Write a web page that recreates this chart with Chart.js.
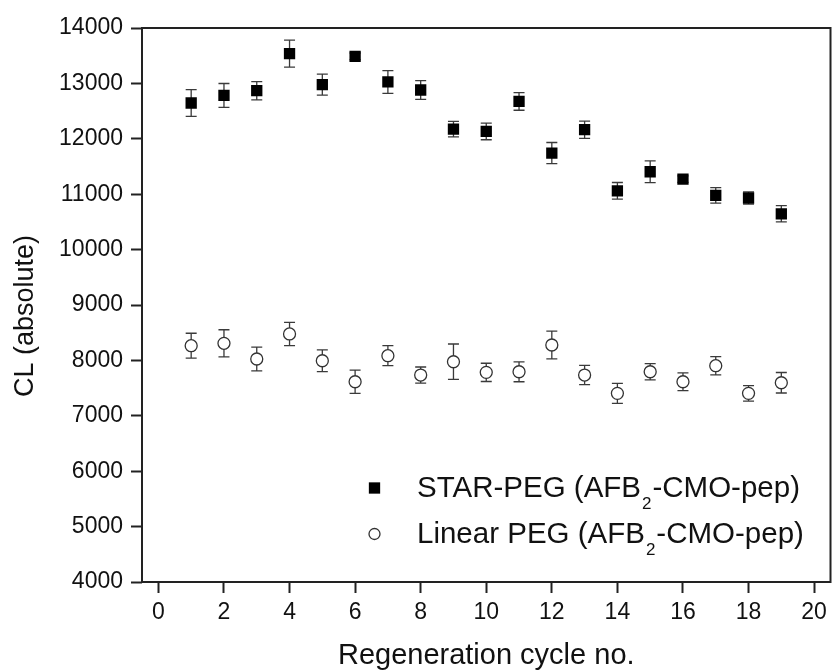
<!DOCTYPE html>
<html>
<head>
<meta charset="utf-8">
<script src="https://cdn.jsdelivr.net/npm/chart.js@4.4.0/dist/chart.umd.min.js"></script>
<style>
  html, body { margin: 0; padding: 0; background: #fff; }
  #wrap { width: 832px; height: 671px; }
</style>
</head>
<body>
<div id="wrap"><canvas id="grafico" width="832" height="671"></canvas></div>
<script>
// ciclos de regeneração
const cycles = [1, 2, 3, 4, 5, 6, 7, 8, 9, 10, 11, 12, 13, 14, 15, 16, 17, 18, 19];

// STAR-PEG
const starPeg = [12646, 12783, 12868, 13537, 12977, 13489, 13026, 12881, 12176, 12133,
                 12675, 11743, 12164, 11061, 11405, 11272, 10980, 10931, 10646];
const starPegErr = [240, 215, 165, 245, 190, 60, 205, 170, 140, 150,
                    160, 190, 155, 150, 195, 60, 140, 110, 147];

// Linear PEG
const linearPeg = [8265, 8308, 8025, 8477, 7994, 7615, 8085, 7736, 7976, 7784,
                   7795, 8278, 7736, 7405, 7795, 7615, 7904, 7405, 7597];
const linearPegErr = [225, 245, 215, 210, 195, 210, 180, 145, 320, 165,
                      180, 250, 175, 180, 145, 160, 165, 140, 185];

const seriesLabels = ["STAR-PEG (AFB₂-CMO-pep)", "Linear PEG (AFB₂-CMO-pep)"];
const yTitle = "CL (absolute)";

const FONTE = "'Liberation Sans', Arial, Helvetica, sans-serif";
Chart.defaults.font.family = FONTE;
Chart.defaults.color = "#111";

function pontos(ys, errs) {
    return cycles.map((c, i) => ({ x: c, y: ys[i], err: errs[i] }));
}

// barras de erro, desenhadas antes dos marcadores
const barrasErro = {
    id: "barrasErro",
    beforeDatasetsDraw(chart) {
        const ctx = chart.ctx;
        const xs = chart.scales.x;
        const ys = chart.scales.y;
        ctx.save();
        ctx.strokeStyle = "#3a3a3a";
        ctx.lineWidth = 1.3;
        chart.data.datasets.forEach(ds => {
            ds.data.forEach(p => {
                const x = xs.getPixelForValue(p.x);
                const yTop = ys.getPixelForValue(p.y + p.err);
                const yBot = ys.getPixelForValue(p.y - p.err);
                ctx.beginPath();
                ctx.moveTo(x, yTop); ctx.lineTo(x, yBot);
                ctx.moveTo(x - 5.5, yTop); ctx.lineTo(x + 5.5, yTop);
                ctx.moveTo(x - 5.5, yBot); ctx.lineTo(x + 5.5, yBot);
                ctx.stroke();
            });
        });
        ctx.restore();
    }
};

// moldura do gráfico + título do eixo y
const moldura = {
    id: "moldura",
    beforeDatasetsDraw(chart) {
        const { ctx, chartArea } = chart;
        ctx.save();
        ctx.strokeStyle = "#222";
        ctx.lineWidth = 2;
        ctx.strokeRect(chartArea.left, chartArea.top,
                       chartArea.right - chartArea.left, chartArea.bottom - chartArea.top);

        ctx.translate(25.5, (chartArea.top + chartArea.bottom) / 2 + 11);
        ctx.rotate(-Math.PI / 2);
        ctx.fillStyle = "#111";
        ctx.font = "27px " + FONTE;
        ctx.textAlign = "center";
        ctx.textBaseline = "middle";
        ctx.fillText(yTitle, 0, 0);
        ctx.restore();
    }
};

// legenda dentro da área, com subscrito
const legendaInterna = {
    id: "legendaInterna",
    afterDatasetsDraw(chart) {
        const { ctx, chartArea } = chart;
        const mx = chartArea.left + 232.5;
        const tx = chartArea.left + 275;
        const bases = [chartArea.top + 469, chartArea.top + 515];
        ctx.save();
        chart.data.datasets.forEach((ds, i) => {
            const base = bases[i];
            ctx.fillStyle = ds.backgroundColor;
            ctx.strokeStyle = ds.borderColor;
            ctx.lineWidth = ds.borderWidth;
            Chart.helpers.drawPoint(ctx, {
                pointStyle: ds.pointStyle,
                radius: ds.legendRadius,
                borderWidth: ds.borderWidth,
                rotation: 0
            }, mx, base - 9);

            const partes = ds.label.split("₂");
            ctx.fillStyle = "#111";
            ctx.textBaseline = "alphabetic";
            ctx.textAlign = "left";
            let x = tx;
            partes.forEach((parte, k) => {
                ctx.font = "29.5px " + FONTE;
                ctx.fillText(parte, x, base);
                x += ctx.measureText(parte).width;
                if (k < partes.length - 1) {
                    ctx.font = "17px " + FONTE;
                    ctx.fillText("2", x + 1, base + 12);
                    x += ctx.measureText("2").width + 2;
                }
            });
        });
        ctx.restore();
    }
};

const ctx = document.getElementById("grafico").getContext("2d");

new Chart(ctx, {
    type: "scatter",
    data: {
        datasets: [{
            label: seriesLabels[0],
            data: pontos(starPeg, starPegErr),
            pointStyle: "rect",
            pointRadius: 8,
            legendRadius: 8,
            backgroundColor: "#000",
            borderColor: "#000",
            borderWidth: 0
        }, {
            label: seriesLabels[1],
            data: pontos(linearPeg, linearPegErr),
            pointStyle: "circle",
            pointRadius: 6,
            legendRadius: 5.5,
            backgroundColor: "#fff",
            borderColor: "#333",
            borderWidth: 1.3
        }]
    },
    options: {
        responsive: false,
        animation: false,
        devicePixelRatio: 1,
        layout: {
            autoPadding: false,
            padding: { top: 28, right: 1.5, bottom: 0, left: 0 }
        },
        plugins: {
            legend: { display: false },
            tooltip: { enabled: false }
        },
        scales: {
            x: {
                type: "linear",
                min: -0.5,
                max: 20.5,
                border: { display: false },
                grid: {
                    drawOnChartArea: false,
                    drawTicks: true,
                    tickLength: 11,
                    tickWidth: 2,
                    tickColor: "#222"
                },
                ticks: {
                    stepSize: 2,
                    includeBounds: false,
                    padding: 6,
                    color: "#111",
                    font: { size: 23 },
                    callback: v => String(v)
                },
                title: {
                    display: true,
                    text: "Regeneration cycle no.",
                    color: "#111",
                    font: { size: 29, lineHeight: 1.05 },
                    padding: { top: 0, bottom: 0 }
                },
                afterFit: scale => {
                    scale.height = 89;
                    scale.paddingLeft = 0;
                    scale.paddingRight = 0;
                }
            },
            y: {
                type: "linear",
                min: 4000,
                max: 14000,
                border: { display: false },
                grid: {
                    drawOnChartArea: false,
                    drawTicks: true,
                    tickLength: 11,
                    tickWidth: 2,
                    tickColor: "#222"
                },
                ticks: {
                    stepSize: 1000,
                    padding: 8,
                    color: "#111",
                    font: { size: 23 },
                    callback: v => String(v)
                },
                title: { display: false },
                afterFit: scale => { scale.width = 142; }
            }
        }
    },
    plugins: [barrasErro, moldura, legendaInterna]
});
</script>
</body>
</html>
